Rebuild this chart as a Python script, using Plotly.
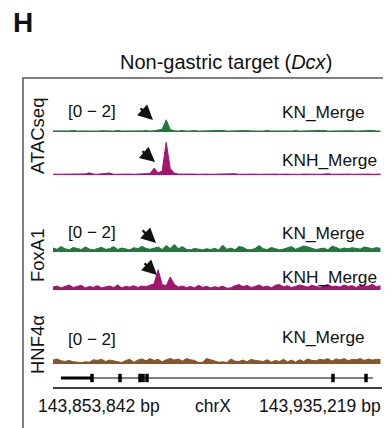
import plotly.graph_objects as go

# page is rendered with an 8px body margin: figure is sized/offset to compensate
W, H = 391, 428
OFF = 8
FIG_W, FIG_H = W - OFF, H - OFF
G_START = 143853842
G_END = 143935219
BIN = 1000

atac_kn = [0.06,0.05,0.08,0.05,0.06,0.09,0.05,0.06,0.05,0.08,
           0.06,0.05,0.07,0.05,0.06,0.05,0.09,0.05,0.06,0.05,
           0.07,0.05,0.06,0.08,0.05,0.07,0.12,0.15,0.68,0.14,
           0.07,0.05,0.09,0.05,0.06,0.08,0.05,0.06,0.05,0.07,
           0.05,0.06,0.09,0.05,0.06,0.05,0.07,0.05,0.08,0.06,
           0.05,0.06,0.05,0.09,0.05,0.06,0.07,0.05,0.06,0.05,
           0.08,0.05,0.06,0.05,0.07,0.05,0.06,0.09,0.05,0.06,
           0.05,0.08,0.05,0.06,0.07,0.05,0.06,0.08,0.05,0.09,
           0.06,0.05]
atac_knh = [0.04,0.04,0.05,0.04,0.06,0.04,0.05,0.04,0.06,0.12,
            0.05,0.04,0.06,0.05,0.11,0.04,0.05,0.04,0.06,0.05,
            0.04,0.06,0.05,0.07,0.08,0.38,0.12,0.22,1.82,0.36,
            0.10,0.05,0.06,0.04,0.08,0.05,0.04,0.06,0.05,0.04,
            0.05,0.04,0.06,0.04,0.05,0.07,0.04,0.05,0.04,0.06,
            0.05,0.04,0.05,0.06,0.04,0.05,0.04,0.06,0.05,0.04,
            0.06,0.04,0.05,0.04,0.05,0.06,0.04,0.05,0.07,0.04,
            0.05,0.04,0.06,0.05,0.04,0.05,0.06,0.04,0.05,0.04,
            0.06,0.05]
fox_kn = [0.22,0.15,0.30,0.18,0.12,0.25,0.20,0.14,0.28,0.16,
          0.12,0.20,0.26,0.15,0.18,0.30,0.14,0.22,0.17,0.12,
          0.24,0.18,0.32,0.20,0.15,0.22,0.28,0.14,0.36,0.20,
          0.42,0.18,0.30,0.15,0.12,0.20,0.16,0.12,0.18,0.14,
          0.20,0.12,0.38,0.15,0.22,0.12,0.30,0.26,0.14,0.12,
          0.20,0.36,0.18,0.14,0.25,0.20,0.12,0.16,0.22,0.30,
          0.15,0.24,0.34,0.28,0.20,0.14,0.18,0.22,0.12,0.32,
          0.26,0.15,0.22,0.18,0.24,0.20,0.16,0.28,0.22,0.18,
          0.25,0.20]
fox_knh = [0.16,0.22,0.12,0.20,0.28,0.14,0.18,0.26,0.12,0.20,
           0.15,0.24,0.12,0.18,0.22,0.14,0.28,0.12,0.20,0.16,
           0.24,0.14,0.22,0.18,0.28,0.35,1.12,0.30,0.24,0.72,
           0.32,0.16,0.22,0.14,0.20,0.12,0.26,0.15,0.20,0.12,
           0.18,0.14,0.22,0.10,0.12,0.24,0.30,0.18,0.26,0.14,
           0.20,0.28,0.16,0.22,0.12,0.26,0.30,0.18,0.24,0.14,
           0.20,0.28,0.22,0.16,0.26,0.20,0.14,0.24,0.30,0.18,
           0.22,0.16,0.28,0.20,0.24,0.14,0.26,0.20,0.22,0.32,
           0.18,0.24]
hnf_kn = [0.22,0.28,0.18,0.14,0.20,0.12,0.10,0.08,0.12,0.10,
          0.24,0.20,0.26,0.14,0.22,0.18,0.12,0.08,0.20,0.26,
          0.10,0.22,0.28,0.18,0.30,0.20,0.26,0.12,0.24,0.30,
          0.22,0.28,0.16,0.30,0.24,0.20,0.08,0.10,0.30,0.22,
          0.14,0.10,0.12,0.08,0.28,0.16,0.14,0.22,0.12,0.26,
          0.20,0.18,0.14,0.24,0.10,0.20,0.14,0.26,0.12,0.22,
          0.10,0.24,0.14,0.28,0.20,0.18,0.26,0.22,0.30,0.16,
          0.28,0.22,0.30,0.18,0.26,0.24,0.30,0.20,0.28,0.22,
          0.26,0.24]

gene_span = [143855821, 143932994]
gene_utr = [143855821, 143863489]
exons = [143863489, 143870414, 143875362, 143876104, 143877093, 143923100, 143931263]

track_names = ["ATACseq", "FoxA1", "HNF4α"]
sample_labels = ["KN_Merge", "KNH_Merge", "KN_Merge", "KNH_Merge", "KN_Merge"]
scale_label = "[0 − 2]"
left_tick = "143,853,842 bp"
right_tick = "143,935,219 bp"
chrom = "chrX"

GREEN = "#1f7a3a"
MAGENTA = "#a3166e"
BROWN = "#8a5424"
FONT = "Liberation Sans, Arial, sans-serif"

def px(x):
    return (x - OFF) / FIG_W

def py(y):
    return 1 - (y - OFF) / FIG_H

xs = [G_START + i * BIN for i in range(len(atac_kn))]

tracks = [
    (atac_kn, GREEN, 132),
    (atac_knh, MAGENTA, 175),
    (fox_kn, GREEN, 252),
    (fox_knh, MAGENTA, 290),
    (hnf_kn, BROWN, 364),
]
TRACK_H = 36

fig = go.Figure()
layout_axes = {}
for k, (vals, col, base) in enumerate(tracks, start=1):
    yname = "y" if k == 1 else f"y{k}"
    fig.add_trace(go.Scatter(
        x=xs, y=vals, xaxis="x", yaxis=yname, mode="lines",
        line=dict(color=col, width=1), fill="tozeroy", fillcolor=col,
        hoverinfo="skip", showlegend=False))
    key = "yaxis" if k == 1 else f"yaxis{k}"
    layout_axes[key] = dict(domain=[py(base), py(base - TRACK_H)], range=[0, 2],
                            visible=False, fixedrange=True, anchor="x")

# gene track
fig.add_trace(go.Scatter(x=gene_span, y=[0, 0], xaxis="x", yaxis="y6", mode="lines",
                         line=dict(color="black", width=1.2), showlegend=False, hoverinfo="skip"))
fig.add_trace(go.Scatter(x=gene_utr, y=[0, 0], xaxis="x", yaxis="y6", mode="lines",
                         line=dict(color="black", width=3), showlegend=False, hoverinfo="skip"))
fig.add_trace(go.Scatter(x=exons, y=[0] * len(exons), xaxis="x", yaxis="y6", mode="markers",
                         marker=dict(symbol="line-ns-open", size=6, color="black",
                                     line=dict(color="black", width=3.5)),
                         showlegend=False, hoverinfo="skip"))
layout_axes["yaxis6"] = dict(domain=[py(388), py(368)], range=[-1, 1], visible=False, anchor="x")

fig.update_layout(
    width=FIG_W, height=FIG_H, margin=dict(l=0, r=0, t=0, b=0),
    paper_bgcolor="white", plot_bgcolor="rgba(0,0,0,0)",
    xaxis=dict(domain=[px(53), px(382)], range=[G_START, G_END], visible=False, anchor="y"),
    **layout_axes,
)

ann = []
def text(t, x, y, size=17, xanchor="center", angle=0, bold=False):
    ann.append(dict(text=f"<b>{t}</b>" if bold else t, x=px(x), y=py(y), xref="paper", yref="paper",
                    showarrow=False, xanchor=xanchor, yanchor="middle", textangle=angle,
                    font=dict(family=FONT, size=size, color="#111111")))

text("H", 23, 23, size=28, bold=True)
text("Non-gastric target (<i>Dcx</i>)", 226, 62, size=20)
for y in [111, 232, 339]:
    text(scale_label, 66, y, xanchor="left")
for lab, y in zip(sample_labels, [112, 160, 233, 277, 337]):
    text(lab, 280, y, xanchor="left", size=17.3)
for lab, y in zip(track_names, [136, 256, 345]):
    text(lab, 37, y, angle=-90, size=18.5)
text(left_tick, 36, 406, size=17.5, xanchor="left")
text(chrom, 213, 406, size=17.5)
text(right_tick, 383, 406, size=17.5, xanchor="right")

for (tx, ty), (sx, sy) in [((153, 120), (139, 107)), ((155, 162), (141, 150)),
                           ((156, 243), (141, 229)), ((157, 275), (143, 262))]:
    ann.append(dict(text="", x=px(tx), y=py(ty), xref="paper", yref="paper", showarrow=True,
                    ax=sx - tx, ay=sy - ty, arrowhead=2, arrowsize=1.35, arrowwidth=2.2,
                    arrowcolor="#111111", standoff=0))

fig.update_layout(annotations=ann)

shapes = [
    dict(type="rect", xref="paper", yref="paper", x0=px(23), x1=px(384), y0=-0.1, y1=py(78),
         line=dict(color="#555555", width=1.5), fillcolor="rgba(0,0,0,0)", layer="below"),
    dict(type="line", xref="paper", yref="paper", x0=px(53), x1=px(382), y0=py(388), y1=py(388),
         line=dict(color="black", width=1.5)),
]
fig.update_layout(shapes=shapes)

fig.write_html("out.html")
